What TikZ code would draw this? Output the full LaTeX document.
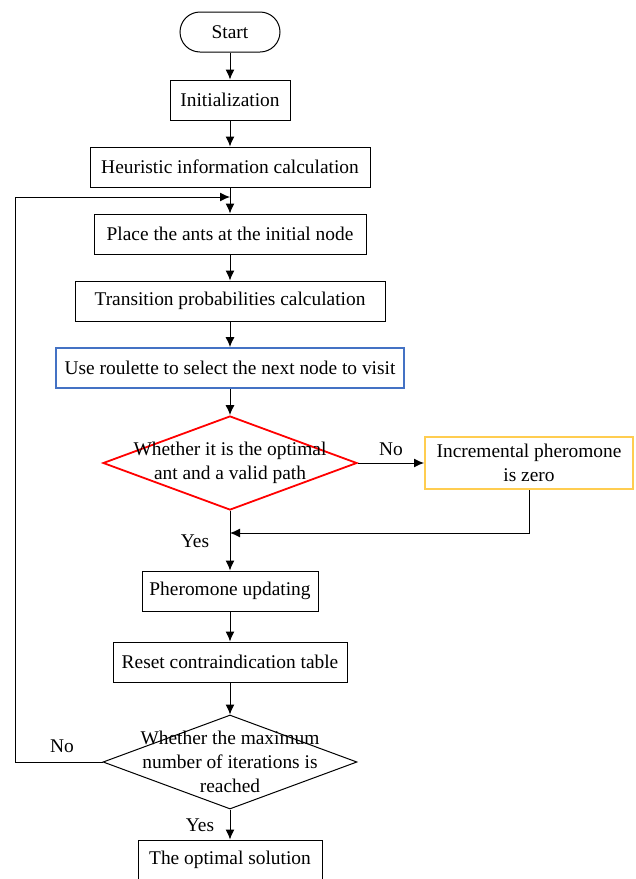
\documentclass[tikz,border=0pt]{standalone}
\usepackage{fontspec}
\setmainfont{Liberation Serif}
\usetikzlibrary{shapes.geometric,arrows.meta}
\definecolor{boxblue}{RGB}{68,114,196}
\definecolor{boxred}{RGB}{255,0,0}
\definecolor{boxyellow}{RGB}{255,205,80}

\begin{document}
\begin{tikzpicture}[x=1pt, y=-1pt, line width=1pt,
		every node/.style={font=\fontsize{19.4}{24}\selectfont},
		proc/.style={draw, rectangle, minimum height=40pt, inner sep=0pt},
		term/.style={draw, rectangle, rounded corners=20pt, minimum width=100pt, minimum height=40pt},
		dec/.style={draw, diamond, minimum width=254pt, minimum height=94pt, inner sep=0pt},
		arr/.style={-{Latex[length=10pt,width=9pt]}}]
		\useasboundingbox (0,0) rectangle (636,879);
		% main column
		\node[term] (start) at (230,32) {Start};
		\node[proc, minimum width=120pt] (init) at (230,100) {Initialization};
		\node[proc, minimum width=280pt] (heur) at (230,167) {Heuristic information calculation};
		\node[proc, minimum width=272pt] (place) at (230,234) {Place the ants at the initial node};
		\node[proc, minimum width=310pt] (trans) at (230,301) {Transition probabilities calculation};
		\node[proc, minimum width=348pt, draw=boxblue, line width=1.8pt] (roul) at (230,368) {Use roulette to select the next node to visit};
		\node[dec, draw=boxred, line width=1.8pt] (opt) at (230,463) {};
		\node[align=center] (optt) at (230,463) {Whether it is the optimal\\ant and a valid path};
		\node[proc, minimum width=208pt, minimum height=52pt, draw=boxyellow, line width=2pt, align=center] (incr) at (529,463) {Incremental pheromone\\is zero};
		\node[proc, minimum width=176pt] (upd) at (230,591) {Pheromone updating};
		\node[proc, minimum width=234pt] (reset) at (230,662) {Reset contraindication table};
		\node[dec] (maxit) at (230,762) {};
		\node[align=center] (maxitt) at (230,762) {Whether the maximum\\number of iterations is\\reached};
		\node[proc, minimum width=184pt] (sol) at (230,860) {The optimal solution};
		% connectors
		\draw[arr] (start) -- (init);
		\draw[arr] (init) -- (heur);
		\draw[arr] (heur) -- (place);
		\draw[arr] (place) -- (trans);
		\draw[arr] (trans) -- (roul);
		\draw[arr] (roul) -- (opt);
		\draw[arr] (opt.east) -- node[above, yshift=3pt]{No} (incr.west);
		\draw[arr] (opt.south) -- (upd.north);
		\node (yes1) at (195,541) {Yes};
		\coordinate (merge) at (230,533);
		\draw[arr] (incr.south) -- (incr.south |- merge) -- (merge);
		\draw[arr] (upd) -- (reset);
		\draw[arr] (reset) -- (maxit);
		\draw[arr] (maxit.south) -- (sol.north);
		\node (yes2) at (200,825) {Yes};
		\coordinate (loopl) at (15,762);
		\coordinate (loopt) at (15,197);
		\coordinate (back) at (230,197);
		\draw[arr] (maxit.west) -- (loopl) -- (loopt) -- (back);
		\node (no2) at (62,746) {No};
\end{tikzpicture}
\end{document}
